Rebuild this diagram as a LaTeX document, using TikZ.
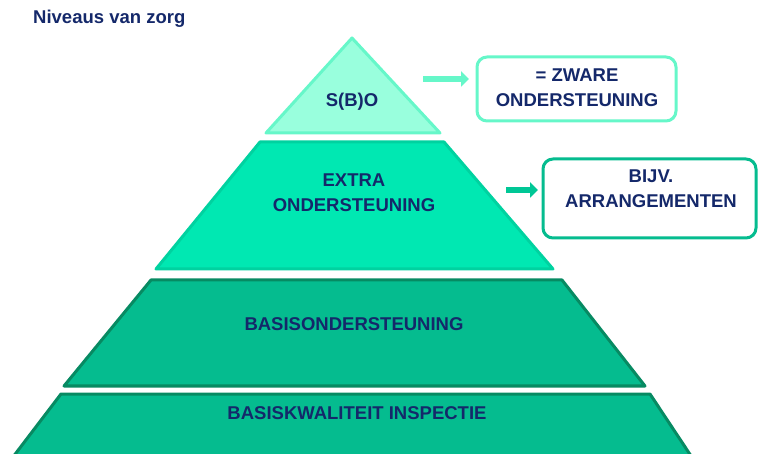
\documentclass[tikz,border=0pt]{standalone}
\usepackage{fontspec}
\setmainfont{Liberation Sans}
\usetikzlibrary{arrows.meta}
\definecolor{navy}{HTML}{14286A}
\definecolor{mintfill}{HTML}{99FFDD}
\definecolor{mintline}{HTML}{66F7C9}
\definecolor{brightfill}{HTML}{00E8B2}
\definecolor{brightline}{HTML}{00D2A0}
\definecolor{tealfill}{HTML}{05BC8F}
\definecolor{tealline}{HTML}{078A62}
\definecolor{arrowtwo}{HTML}{00C796}
\tikzset{
  lbl/.style={text=navy, font=\bfseries\fontsize{18.5}{25}\selectfont, align=center, inner sep=0pt},
  layer/.style={line width=3pt, line join=round},
  infobox/.style={line width=3pt, rounded corners=10pt, fill=white},
  blockarrow/.style={line width=6pt, -{Triangle[length=8pt,width=15pt]}}
}
\begin{document}
\begin{tikzpicture}[x=1pt,y=-1pt]
\useasboundingbox (0,0) rectangle (758,454);
\begin{scope}
\clip (0,0) rectangle (758,454);
% layers
\draw[layer, draw=tealline, fill=tealfill] (61,394) -- (650,394) -- (703,474) -- (0,474) -- cycle;
\draw[layer, draw=tealline, fill=tealfill] (151,280) -- (562,280) -- (645,386) -- (64,386) -- cycle;
\draw[layer, draw=brightline, fill=brightfill] (260,142) -- (444,142) -- (553,269) -- (156,269) -- cycle;
\draw[layer, draw=mintline, fill=mintfill] (352,38) -- (440,133) -- (266,133) -- cycle;
% boxes
\draw[infobox, draw=mintline] (477,57) rectangle (676,121);
\draw[infobox, draw=tealfill] (543,159) rectangle (756,238);
\end{scope}
% title
\node[anchor=west, text=navy, font=\bfseries\fontsize{18.5}{22}\selectfont, inner sep=0pt] (title) at (33,19) {Niveaus van zorg};
% labels
\node[lbl] (sbo) at (352,102) {S(B)O};
\node[lbl] (extra) at (354,193) {EXTRA\\ONDERSTEUNING};
\node[lbl] (basis) at (354,324) {BASISONDERSTEUNING};
\node[lbl] (kwal) at (357,413) {BASISKWALITEIT INSPECTIE};
\node[lbl] (zware) at (577,88) {= ZWARE\\ONDERSTEUNING};
\node[lbl] (arr) at (651,189) {BIJV.\\ARRANGEMENTEN};
% arrows
\coordinate (a1s) at (423,79);
\coordinate (a1e) at (469,79);
\coordinate (a2s) at (506,190);
\coordinate (a2e) at (538,190);
\draw[blockarrow, draw=mintline, fill=mintline] (a1s) -- (a1e);
\draw[blockarrow, draw=arrowtwo, fill=arrowtwo] (a2s) -- (a2e);
\end{tikzpicture}
\end{document}
